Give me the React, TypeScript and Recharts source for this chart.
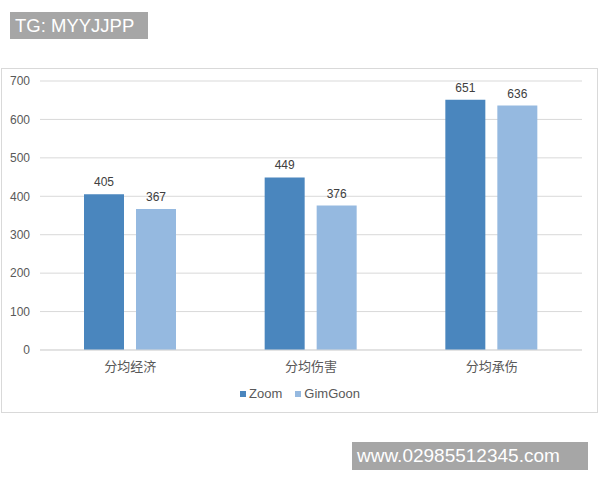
import React from 'react';
import { BarChart, Bar, XAxis, YAxis, CartesianGrid, Legend, LabelList } from 'recharts';

const categories = ['分均经济', '分均伤害', '分均承伤'];
const zoomValues = [405, 449, 651];
const gimGoonValues = [367, 376, 636];
const yTicks = [0, 100, 200, 300, 400, 500, 600, 700];

const seriesNames = ['Zoom', 'GimGoon'];
const seriesColors = ['#4A86BE', '#95B9E0'];

const data = categories.map((name, i) => ({
  name,
  Zoom: zoomValues[i],
  GimGoon: gimGoonValues[i],
}));

const FONT = '"Liberation Sans", "Noto Sans CJK SC", sans-serif';

// keep legend in series order (recharts sorts it by name otherwise)
const LegendContent = () => (
  <div
    style={{
      display: 'flex',
      justifyContent: 'center',
      paddingTop: 6,
      paddingLeft: 16,
      lineHeight: '16px',
      fontSize: 13,
      fontFamily: FONT,
      color: '#595959',
    }}
  >
    {seriesNames.map((s, i) => (
      <span key={s} style={{ display: 'inline-flex', alignItems: 'center', marginRight: i === 0 ? 13 : 0 }}>
        <span style={{ width: 6, height: 6, background: seriesColors[i], marginRight: 3 }} />
        {s}
      </span>
    ))}
  </div>
);

const App: React.FC = () => {
  return (
    <div
      style={{
        position: 'absolute',
        top: 0,
        left: 0,
        width: 600,
        height: 480,
        background: '#fff',
        fontFamily: FONT,
      }}
    >
      <div
        style={{
          position: 'absolute',
          left: 10,
          top: 12,
          width: 138,
          height: 27,
          background: '#A6A6A6',
          color: '#fff',
          fontSize: 18.5,
          lineHeight: '27px',
          paddingLeft: 5,
          boxSizing: 'border-box',
        }}
      >
        TG: MYYJJPP
      </div>

      <div
        style={{
          position: 'absolute',
          left: 1,
          top: 68,
          width: 597,
          height: 345,
          border: '1px solid #D9D9D9',
          boxSizing: 'border-box',
        }}
      >
        <BarChart
          width={595}
          height={343}
          data={data}
          margin={{ top: 12, right: 15, left: 0, bottom: 8 }}
          barSize={40}
          barGap={12}
        >
          <CartesianGrid vertical={false} stroke="#D9D9D9" />
          <XAxis
            dataKey="name"
            axisLine={{ stroke: '#D9D9D9' }}
            tickLine={false}
            height={30}
            tickMargin={6}
            tick={{ fill: '#595959', fontSize: 13, fontFamily: FONT }}
          />
          <YAxis
            domain={[0, 700]}
            ticks={yTicks}
            axisLine={false}
            tickLine={false}
            width={38}
            tickMargin={4}
            tick={{ fill: '#595959', fontSize: 12, fontFamily: FONT }}
          />
          <Legend height={24} content={LegendContent} />
          <Bar dataKey="Zoom" fill={seriesColors[0]} isAnimationActive={false}>
            <LabelList dataKey="Zoom" position="top" offset={8} fill="#404040" fontSize={12} fontFamily={FONT} />
          </Bar>
          <Bar dataKey="GimGoon" fill={seriesColors[1]} isAnimationActive={false}>
            <LabelList dataKey="GimGoon" position="top" offset={8} fill="#404040" fontSize={12} fontFamily={FONT} />
          </Bar>
        </BarChart>
      </div>

      <div
        style={{
          position: 'absolute',
          left: 352,
          top: 442,
          width: 236,
          height: 28,
          background: '#A6A6A6',
          color: '#fff',
          fontSize: 19,
          lineHeight: '28px',
          paddingLeft: 5,
          boxSizing: 'border-box',
        }}
      >
        www.02985512345.com
      </div>
    </div>
  );
};

export default App;
